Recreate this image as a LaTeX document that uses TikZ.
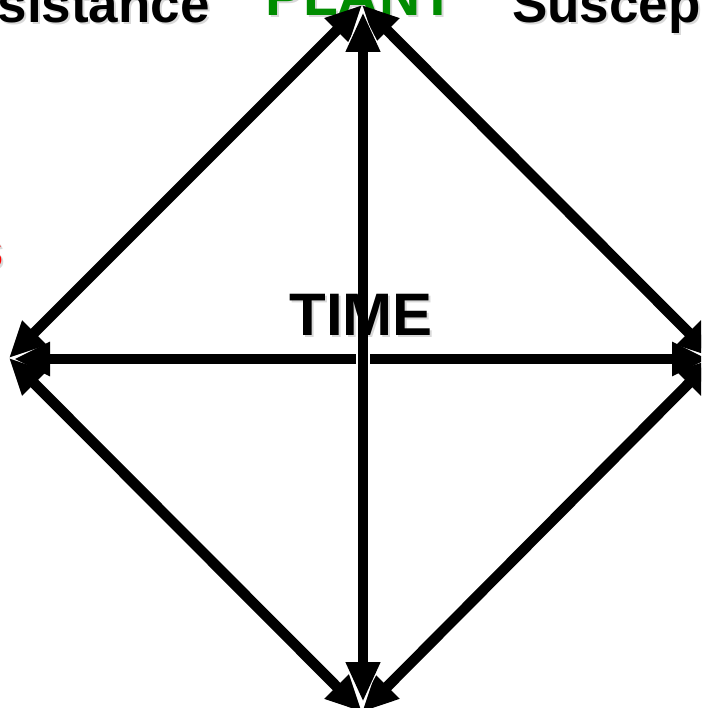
\documentclass[tikz,border=0pt]{standalone}
\usepackage{fontspec}
\setmainfont{Liberation Sans}
\usetikzlibrary{arrows.meta}
\definecolor{plantgreen}{RGB}{0,140,0}
\definecolor{pathred}{RGB}{255,0,0}
\begin{document}
\begin{tikzpicture}[x=1pt,y=-1pt,
  lbl/.style={inner sep=0pt, font=\bfseries\fontsize{53}{53}\selectfont},
  shadowtxt/.style={text=black, opacity=0.15},
  conn/.style={line width=10.5pt, draw=black, {Triangle[length=36pt,width=32pt]}-{Triangle[length=36pt,width=32pt]}},
  haloconn/.style={line width=10.5pt, draw=black, {Triangle[length=40pt,width=32pt]}-{Triangle[length=40pt,width=32pt]},
     preaction={draw=white, line width=14pt, {Triangle[length=44pt,width=40pt]}-{Triangle[length=44pt,width=40pt]}}}]
\useasboundingbox (0,0) rectangle (701,708);
\clip (0,0) rectangle (701,708);
\fill[white] (0,0) rectangle (701,708);

% text labels with soft drop shadows
\node[lbl, shadowtxt, anchor=base east] at (212,25) {sistance};
\node[lbl, anchor=base east] (res) at (210,23) {sistance};
\node[lbl, shadowtxt, anchor=base west] at (514,25) {Suscep};
\node[lbl, anchor=base west] (sus) at (512,23) {Suscep};
\node[lbl, shadowtxt, font=\bfseries\fontsize{57}{57}\selectfont, anchor=base] at (362,18) {PLANT};
\node[lbl, text=plantgreen, font=\bfseries\fontsize{57}{57}\selectfont, anchor=base] (plant) at (360,16) {PLANT};
\node[lbl, shadowtxt, anchor=base east] at (6,270) {s};
\node[lbl, text=pathred, anchor=base east] (path) at (4,268) {s};

% corner coordinates
\coordinate (T) at (362,5);
\coordinate (L) at (9,358);
\coordinate (R) at (714,358);
\coordinate (B) at (362,712);
\coordinate (Tv) at (363,12);
\coordinate (Bv) at (363,702);
\coordinate (Lh) at (14,359);
\coordinate (Rh) at (708,359);

% diagonal connectors
\draw[conn] (L) -- (T);
\draw[conn] (T) -- (R);
\draw[conn] (R) -- (B);
\draw[conn] (B) -- (L);

% axes
\draw[conn] (Lh) -- (Rh);
\draw[haloconn] (Tv) -- (Bv);

% TIME label
\node[lbl, shadowtxt, font=\bfseries\fontsize{60}{60}\selectfont, anchor=base] at (363,337) {TIME};
\node[lbl, font=\bfseries\fontsize{60}{60}\selectfont, anchor=base] (time) at (361,335) {TIME};
\end{tikzpicture}
\end{document}
